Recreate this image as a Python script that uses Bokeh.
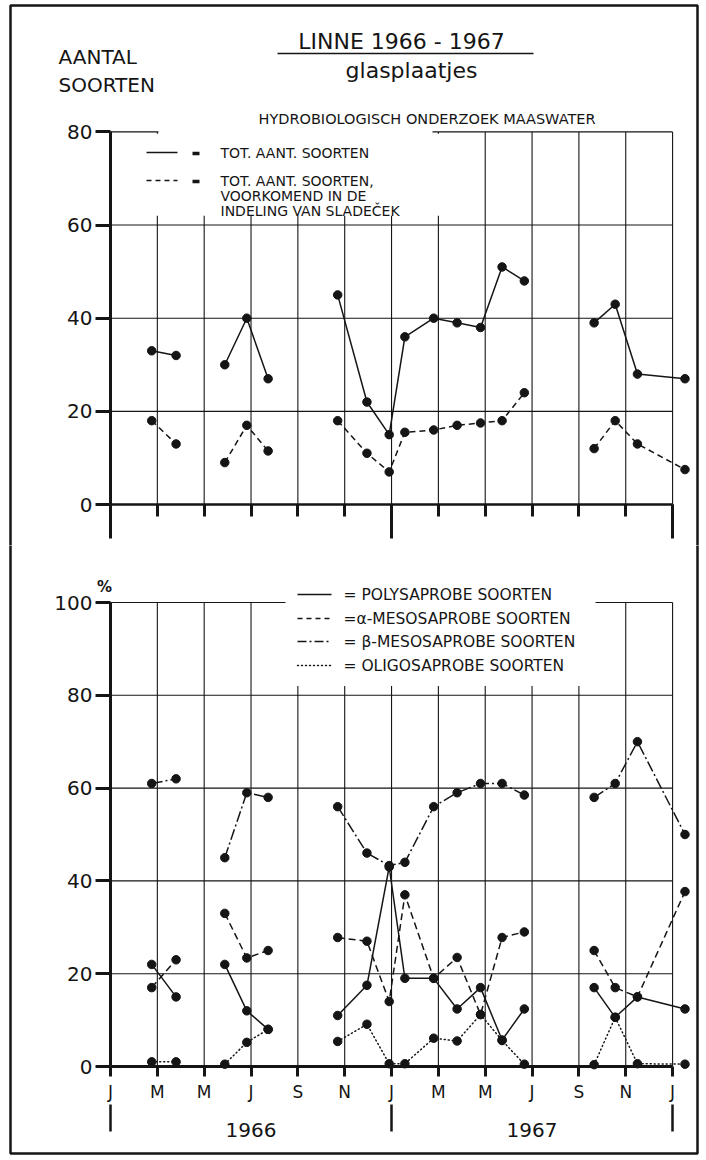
from bokeh.plotting import figure
from bokeh.models import FixedTicker, LinearAxis, Label, BoxAnnotation, Arrow
from bokeh.layouts import column
from bokeh.embed import file_html
from bokeh.resources import INLINE

# ---------------------------------------------------------------- data
# sampling moments in months after 1 January 1966
sample_month = [1.76, 2.8, 4.88, 5.82, 6.73, 9.7, 10.95, 11.9, 12.57,
                13.8, 14.8, 15.8, 16.72, 17.67, 20.65, 21.55, 22.5, 24.53]
# sampling campaign of each sample; lines are not drawn between campaigns
campaign = [1, 1, 2, 2, 2, 3, 3, 3, 3, 3, 3, 3, 3, 3, 4, 4, 4, 4]

# number of species on the glass slides
total_species = [33, 32, 30, 40, 27, 45, 22, 15, 36, 40, 39, 38, 51, 48,
                 39, 43, 28, 27]
sladecek_species = [18, 13, 9, 17, 11.5, 18, 11, 7, 15.5, 16, 17, 17.5, 18,
                    24, 12, 18, 13, 7.5]

# share of the saprobic groups, percent
poly_pct = [22, 15, 22, 12, 8, 11, 17.5, 43, 19, 19, 12.4, 17, 5.7, 12.4,
            17, 10.6, 15, 12.4]
alpha_pct = [17, 23, 33, 23.4, 25, 27.8, 27, 14, 37, 19, 23.5, 11.2, 27.8,
             29, 25, 17, 15, 37.7]
beta_pct = [61, 62, 45, 59, 58, 56, 46, 43.3, 44, 56, 59, 61, 61, 58.5,
            58, 61, 70, 50]
oligo_pct = [1, 1, 0.5, 5.2, 8, 5.4, 9.1, 0.6, 0.6, 6.1, 5.5, 11.2, 5.6,
             0.5, 0.4, 10.6, 0.6, 0.5]

count_ticks = [0, 20, 40, 60, 80]
pct_ticks = [0, 20, 40, 60, 80, 100]
month_ticks = [0, 2, 4, 6, 8, 10, 12, 14, 16, 18, 20, 22, 24]
month_labels = ["J", "M", "M", "J", "S", "N", "J", "M", "M", "J", "S", "N", "J"]
year_marks = [0, 12, 24]
year_centres = [6, 18]
year_labels = ["1966", "1967"]

# ---------------------------------------------------------------- layout
INK = "#151515"
FONT = "DejaVu Sans"
W = 706
LEFT = 110              # page x of the time axis origin
PX_PER_MONTH = 23.42

TOP_H, TOP_ZERO, TOP_PX_UNIT = 545, 504, 4.6575
BOT_H, BOT_ZERO, BOT_PX_UNIT = 615, 1066, 4.64


def mx(px):
    return (px - LEFT) / PX_PER_MONTH


def ty(py):
    return (TOP_ZERO - py) / TOP_PX_UNIT


def by(py):
    return (BOT_ZERO - py) / BOT_PX_UNIT


def make_fig(height, y_lo, y_hi):
    # the data frame fills the whole canvas; axes sit at fixed locations
    p = figure(width=W, height=height, title=None,
               x_range=(mx(0), mx(W)), y_range=(y_lo, y_hi),
               output_backend="svg", toolbar_location=None,
               min_border_left=0, min_border_right=0,
               min_border_top=0, min_border_bottom=0,
               outline_line_color=None, background_fill_color="white",
               border_fill_color="white")
    p.grid.visible = False
    return p


def style_y(ax, ticks):
    ax.fixed_location = 0
    ax.ticker = FixedTicker(ticks=ticks)
    ax.bounds = (ticks[0], ticks[-1])
    ax.axis_line_color = INK
    ax.axis_line_width = 3
    ax.major_tick_line_color = INK
    ax.major_tick_line_width = 3
    ax.major_tick_out = 15
    ax.major_tick_in = 0
    ax.minor_tick_out = 0
    ax.minor_tick_in = 0
    ax.major_label_standoff = 3
    ax.major_label_text_font = FONT
    ax.major_label_text_font_size = "20px"
    ax.major_label_text_color = INK


def grid(p, top):
    hy = [t for t in (pct_ticks if top == 100 else count_ticks) if t > 0]
    p.segment(x0=[0] * len(hy), x1=[24] * len(hy), y0=hy, y1=hy,
              line_color=INK, line_width=1.1)
    vx = month_ticks[1:]
    p.segment(x0=vx, x1=vx, y0=[0] * len(vx), y1=[top] * len(vx),
              line_color=INK, line_width=1.1)


def series(p, ys, dash, cap="butt"):
    for c in sorted(set(campaign)):
        idx = [i for i, k in enumerate(campaign) if k == c]
        p.line([sample_month[i] for i in idx], [ys[i] for i in idx],
               line_color=INK, line_width=1.5, line_dash=dash, line_cap=cap)
    p.scatter(sample_month, ys, marker="circle", size=8.5,
              fill_color=INK, line_color=INK)


def text(p, x, y, s, size, align="left", style="normal"):
    p.add_layout(Label(x=x, y=y, text=s, text_font=FONT,
                       text_font_size=size, text_color=INK,
                       text_align=align, text_baseline="middle",
                       text_font_style=style))


def rule(p, x0, x1, y, width=1.5, dash="solid", cap="butt"):
    p.add_layout(Arrow(end=None, x_start=x0, y_start=y, x_end=x1, y_end=y,
                       line_color=INK, line_width=width, line_dash=dash,
                       line_cap=cap))


def blank(p, left, right, bottom, top):
    p.add_layout(BoxAnnotation(left=left, right=right, bottom=bottom, top=top,
                               fill_color="white", fill_alpha=1.0,
                               line_color=None))


def sheet_edge(p, top, bottom):
    p.add_layout(BoxAnnotation(left=mx(10), right=mx(697), top=top,
                               bottom=bottom, fill_color=None,
                               line_color=INK, line_alpha=1.0, line_width=2.5))


def time_axis(ax, loc):
    ax.fixed_location = loc
    ax.bounds = (0, 24)
    ax.axis_line_color = INK
    ax.major_tick_line_color = INK
    ax.minor_tick_line_color = INK
    ax.major_tick_in = 0
    ax.minor_tick_in = 0
    ax.major_label_text_font = FONT
    ax.major_label_text_color = INK


# ---------------------------------------------------------------- top panel
pa = make_fig(TOP_H, ty(TOP_H), ty(0))
style_y(pa.yaxis[0], count_ticks)
xa = pa.xaxis[0]
time_axis(xa, 0)
xa.ticker = FixedTicker(ticks=year_marks, minor_ticks=month_ticks)
xa.axis_line_width = 2.5
xa.major_tick_line_width = 3
xa.major_tick_out = 34
xa.minor_tick_line_width = 3
xa.minor_tick_out = 12
xa.major_label_text_font_size = "1px"
xa.major_label_text_color = None
xa.major_label_standoff = 0

grid(pa, 80)
series(pa, total_species, "solid")
series(pa, sladecek_species, "6 4")

blank(pa, mx(113), mx(461), 62, 79.6)
blank(pa, mx(158), mx(432), 79, 83)

sheet_edge(pa, ty(5), ty(1000))

text(pa, mx(401), ty(41), "LINNE 1966 - 1967", "22px", "center")
rule(pa, mx(277), mx(533), ty(53), 1.6)
text(pa, mx(411), ty(70), "glasplaatjes", "22px", "center")
text(pa, mx(58), ty(56), "AANTAL", "20px")
text(pa, mx(58), ty(84), "SOORTEN", "20px")
text(pa, mx(258), ty(118), "HYDROBIOLOGISCH ONDERZOEK MAASWATER", "14.5px")

rule(pa, mx(146), mx(177), ty(152))
rule(pa, mx(192), mx(199), ty(153), 3.5)
text(pa, mx(220), ty(152), "TOT. AANT. SOORTEN", "14px")
rule(pa, mx(146), mx(177), ty(180), 1.5, "5 4")
rule(pa, mx(192), mx(199), ty(181), 3.5)
text(pa, mx(220), ty(180), "TOT. AANT. SOORTEN,", "14px")
text(pa, mx(220), ty(195), "VOORKOMEND IN DE", "14px")
text(pa, mx(220), ty(210), "INDELING VAN SLADEČEK", "14px")

# ---------------------------------------------------------------- bottom panel
pb = make_fig(BOT_H, by(TOP_H + BOT_H), by(TOP_H))
style_y(pb.yaxis[0], pct_ticks)
xb = pb.xaxis[0]
time_axis(xb, 0)
xb.ticker = FixedTicker(ticks=month_ticks)
xb.axis_line_width = 3
xb.major_tick_line_width = 3
xb.major_tick_out = 10
xb.minor_tick_out = 0
xb.major_label_overrides = dict(zip(month_ticks, month_labels))
xb.major_label_standoff = 5
xb.major_label_text_font_size = "17px"

# year boundaries
marks = LinearAxis(ticker=FixedTicker(ticks=year_marks))
time_axis(marks, by(1104))
marks.axis_line_color = None
marks.major_tick_out = 27
marks.major_tick_line_width = 2.5
marks.minor_tick_out = 0
marks.major_label_text_font_size = "1px"
marks.major_label_text_color = None
pb.add_layout(marks, "below")

# year names
years = LinearAxis(ticker=FixedTicker(ticks=year_centres))
time_axis(years, by(1122))
years.axis_line_color = None
years.major_tick_out = 0
years.major_tick_line_color = None
years.minor_tick_out = 0
years.major_label_overrides = dict(zip(year_centres, year_labels))
years.major_label_standoff = 0
years.major_label_text_font_size = "20px"
pb.add_layout(years, "below")

grid(pb, 100)
series(pb, poly_pct, "solid")
series(pb, alpha_pct, "7 4")
series(pb, beta_pct, "11 3 2 3")
series(pb, oligo_pct, "1 3", "round")

blank(pb, mx(285), mx(595), 82, 101)

sheet_edge(pb, by(-500), by(1153))

text(pb, mx(104), by(586), "%", "15px", "center", "bold")

legend_rows = [("solid", "= POLYSAPROBE SOORTEN", 594, "butt"),
               ("5 4", "=α-MESOSAPROBE SOORTEN", 618, "butt"),
               ("9 3 2 3", "= β-MESOSAPROBE SOORTEN", 641, "butt"),
               ("1 3", "= OLIGOSAPROBE SOORTEN", 665, "round")]
for dash, label, yy, cap in legend_rows:
    rule(pb, mx(297), mx(331), by(yy), 1.4, dash, cap)
    text(pb, mx(343), by(yy), label, "15.5px")

layout = column(pa, pb)
open("out.html", "w").write(file_html(layout, INLINE))
